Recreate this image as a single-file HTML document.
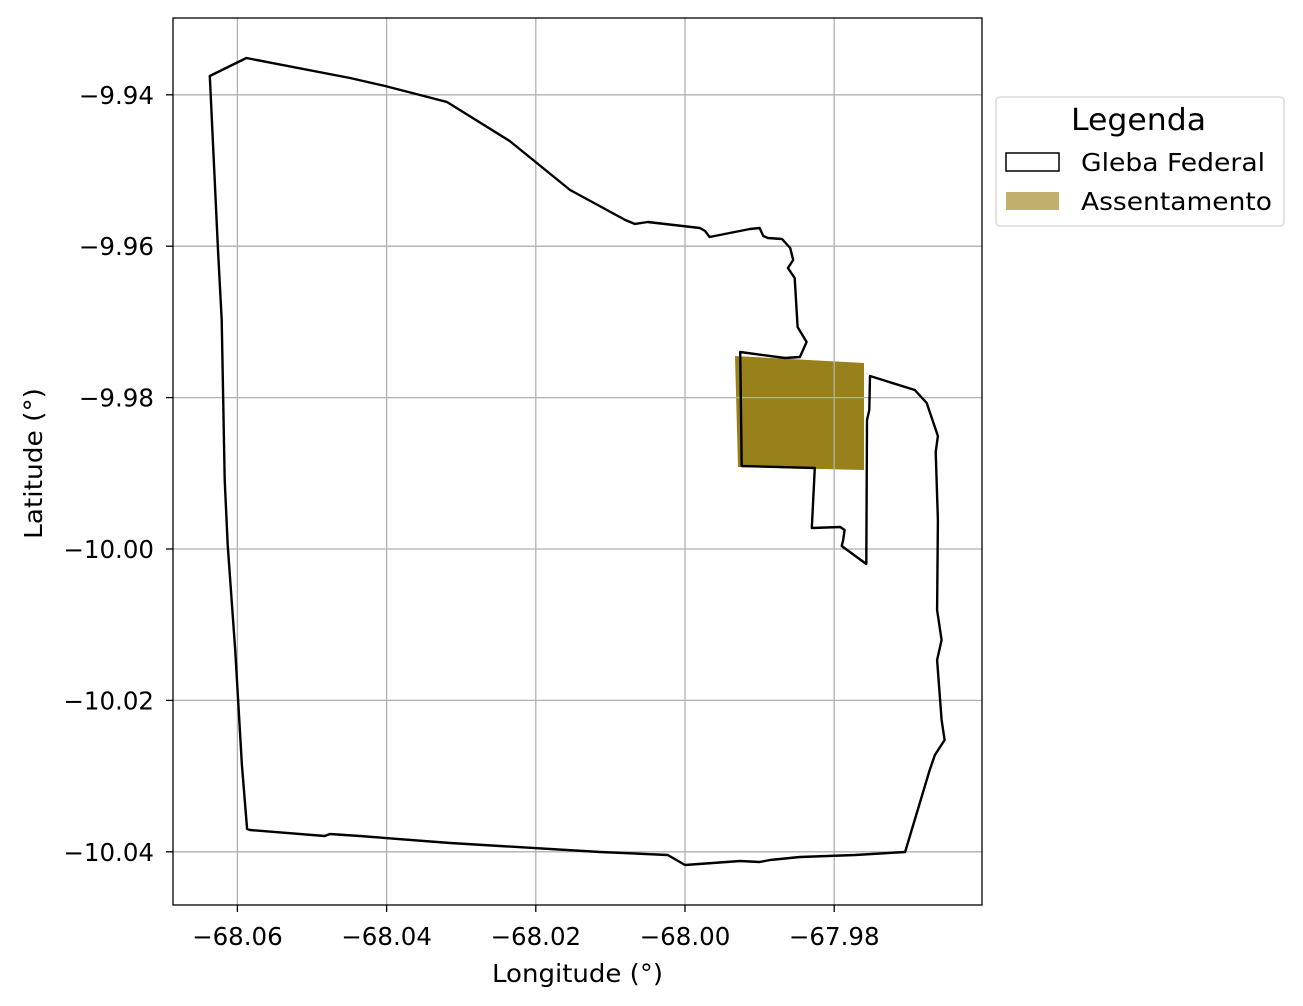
<!DOCTYPE html>
<html><head><meta charset="utf-8">
<style>
html,body{margin:0;padding:0;background:#fff;}
svg{display:block;font-family:"DejaVu Sans","Liberation Sans",sans-serif;}
</style></head>
<body>
<svg id="chart" width="1303" height="1006" viewBox="0 0 1303 1006" xmlns="http://www.w3.org/2000/svg">
<g id="fillLayer"></g>
<g id="gridLayer"></g>
<g id="lineLayer"></g>
<rect x="173" y="18" width="809" height="887" fill="none" stroke="#000" stroke-width="1.3"/>
<g id="tickLayer"></g>
<text x="492" y="982" font-size="25" textLength="171" lengthAdjust="spacingAndGlyphs">Longitude (°)</text>
<text transform="translate(42,539) rotate(-90)" font-size="25" textLength="151" lengthAdjust="spacingAndGlyphs">Latitude (°)</text>
<g>
<rect x="996" y="97" width="288" height="129" rx="4" fill="#fff" stroke="#d4d4d4" stroke-width="1.3"/>
<text x="1071" y="130" font-size="30" textLength="135" lengthAdjust="spacingAndGlyphs">Legenda</text>
<rect x="1006" y="153" width="53" height="18" fill="#fff" stroke="#000" stroke-width="1.5"/>
<text x="1081" y="171" font-size="25" textLength="184" lengthAdjust="spacingAndGlyphs">Gleba Federal</text>
<rect x="1006" y="192" width="53" height="18" fill="#c0b06e"/>
<text x="1081" y="210" font-size="25" textLength="191" lengthAdjust="spacingAndGlyphs">Assentamento</text>
</g>
</svg>
<script>
const xTicks = [-68.06, -68.04, -68.02, -68.00, -67.98];
const yTicks = [-9.94, -9.96, -9.98, -10.00, -10.02, -10.04];
const glebaLon = [-68.0637,-68.0588,-68.0449,-68.0402,-68.0319,-68.0235,-68.0154,-68.0080,-68.0067,-68.0050,-67.9980,-67.9973,-67.9967,-67.9913,-67.9900,-67.9895,-67.9889,-67.9870,-67.9859,-67.9855,-67.9862,-67.9853,-67.9849,-67.9837,-67.9846,-67.9866,-67.9926,-67.9924,-67.9826,-67.9830,-67.9792,-67.9786,-67.9788,-67.9790,-67.9757,-67.9756,-67.9753,-67.9752,-67.9692,-67.9676,-67.9661,-67.9664,-67.9661,-67.9662,-67.9656,-67.9662,-67.9656,-67.9652,-67.9665,-67.9672,-67.9705,-67.9772,-67.9846,-67.9886,-67.9900,-67.9926,-68.0000,-68.0023,-68.0114,-68.0248,-68.0315,-68.0436,-68.0476,-68.0483,-68.0583,-68.0587,-68.0594,-68.0603,-68.0613,-68.0617,-68.0621,-68.0626,-68.0637];
const glebaLat = [-9.93752,-9.93514,-9.93778,-9.93884,-9.94095,-9.94610,-9.95258,-9.95654,-9.95707,-9.95680,-9.95760,-9.95799,-9.95878,-9.95773,-9.95760,-9.95865,-9.95892,-9.95905,-9.96024,-9.96182,-9.96288,-9.96420,-9.97067,-9.97266,-9.97464,-9.97477,-9.97398,-9.98904,-9.98930,-9.99723,-9.99709,-9.99749,-9.99881,-9.99960,-10.00198,-9.98296,-9.98164,-9.97715,-9.97900,-9.98071,-9.98507,-9.98719,-9.99617,-10.00806,-10.01202,-10.01466,-10.02259,-10.02523,-10.02721,-10.02919,-10.04003,-10.04042,-10.04069,-10.04108,-10.04135,-10.04122,-10.04174,-10.04042,-10.04003,-10.03923,-10.03884,-10.03791,-10.03765,-10.03791,-10.03712,-10.03699,-10.02853,-10.01334,-9.99947,-9.99089,-9.96975,-9.96050,-9.93752];
const assentLon = [-67.9933,-67.9760,-67.9760,-67.9929];
const assentLat = [-9.97450,-9.97543,-9.98956,-9.98917];

const NS='http://www.w3.org/2000/svg';
function xPos(lon){ return 685 + (lon + 68.0) * 7460; }
function yPos(lat){ return 549 - (lat + 10.0) * 7570; }
function fmt(v){ return (v<0?'\u2212':'') + Math.abs(v).toFixed(2); }
function mk(tag, attrs){ const e=document.createElementNS(NS,tag); for(const k in attrs) e.setAttribute(k,attrs[k]); return e; }

const fillLayer=document.getElementById('fillLayer');
const gridLayer=document.getElementById('gridLayer');
const lineLayer=document.getElementById('lineLayer');
const tickLayer=document.getElementById('tickLayer');

const ap = assentLon.map((v,i)=>xPos(v).toFixed(1)+','+yPos(assentLat[i]).toFixed(1)).join(' ');
const assent = mk('polygon',{points:ap, fill:'#98811a'});


fillLayer.appendChild(assent);

xTicks.forEach(t=>{
  const x=xPos(t);
  const g=mk('line',{x1:x,x2:x,y1:18,y2:905,stroke:'#b0b0b0','stroke-width':1.3});
  
  
  gridLayer.appendChild(g);
  const tk=mk('line',{x1:x,x2:x,y1:905,y2:912,stroke:'#000','stroke-width':1.3});
  
  
  tickLayer.appendChild(tk);
  const tx=mk('text',{x:x,y:945,'text-anchor':'middle','font-size':24.5});
  tx.textContent=fmt(t);
  
  
  tickLayer.appendChild(tx);
});
yTicks.forEach(t=>{
  const y=yPos(t);
  const g=mk('line',{x1:173,x2:982,y1:y,y2:y,stroke:'#b0b0b0','stroke-width':1.3});
  
  
  gridLayer.appendChild(g);
  const tk=mk('line',{x1:166,x2:173,y1:y,y2:y,stroke:'#000','stroke-width':1.3});
  
  
  tickLayer.appendChild(tk);
  const tx=mk('text',{x:154,y:y+9,'text-anchor':'end','font-size':24.5});
  tx.textContent=fmt(t);
  
  
  tickLayer.appendChild(tx);
});

const gp = glebaLon.map((v,i)=>xPos(v).toFixed(1)+','+yPos(glebaLat[i]).toFixed(1)).join(' ');
const gleba = mk('polygon',{points:gp, fill:'none', stroke:'#000','stroke-width':2.4,'stroke-linejoin':'round'});


lineLayer.appendChild(gleba);
</script>
</body></html>
